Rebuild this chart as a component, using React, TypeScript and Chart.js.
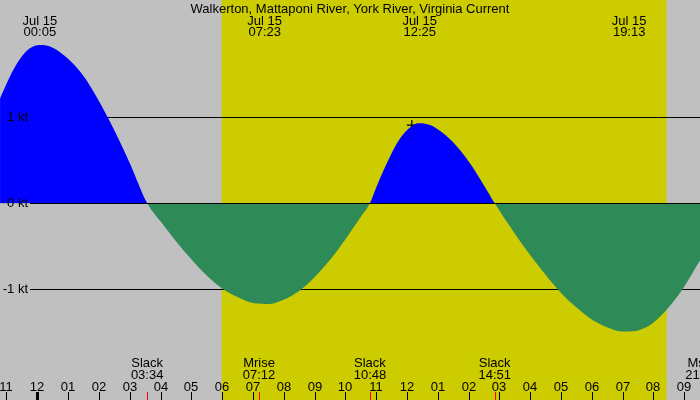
import { useEffect, useRef } from "react";
import { Chart, registerables } from "chart.js";

Chart.register(...registerables);

const stationTitle = "Walkerton, Mattaponi River, York River, Virginia Current";
const dateLabel = "Jul 15";

// Current speed (knots, + flood / - ebb) against hours after midnight, Jul 15
const tideHours = [
  -1.21, -1.0, -0.75, -0.5, -0.25, 0.08, 0.5, 1.0, 1.5, 2.0, 2.5, 3.0, 3.57,
  4.0, 4.5, 5.0, 5.5, 6.0, 6.5, 7.0, 7.38, 7.5, 8.0, 8.5, 9.0, 9.5, 10.0, 10.5, 10.8,
  11.0, 11.25, 11.5, 11.75, 12.0, 12.25, 12.42, 12.75, 13.0, 13.5, 14.0, 14.5, 14.85,
  15.5, 16.0, 16.5, 17.0, 17.5, 18.0, 18.5, 19.0, 19.22, 19.5, 20.0, 20.5, 21.0, 21.52,
];
const tideKnots = [
  1.22, 1.39, 1.57, 1.71, 1.8, 1.84, 1.81, 1.68, 1.48, 1.19, 0.85, 0.47, 0,
  -0.21, -0.44, -0.65, -0.84, -0.99, -1.09, -1.16, -1.17, -1.17, -1.12, -1.02, -0.86, -0.66, -0.42, -0.16, 0,
  0.18, 0.39, 0.58, 0.74, 0.85, 0.92, 0.93, 0.91, 0.86, 0.71, 0.49, 0.21, 0,
  -0.35, -0.6, -0.83, -1.04, -1.21, -1.35, -1.44, -1.49, -1.49, -1.48, -1.39, -1.21, -0.97, -0.66,
];

// Max / min current times shown along the top
const extremaTimes = ["00:05", "07:23", "12:25", "19:13"];

// Slack water and moon events shown along the bottom
const eventNames = ["Slack", "Mrise", "Slack", "Slack", "Mset"];
const eventTimes = ["03:34", "07:12", "10:48", "14:51", "21:34"];

const knotLevels = [1, 0, -1];
const sunriseTime = "05:59";
const sunsetTime = "20:26";

const markerHours = [12.16];
const markerKnots = [0.91];

const hourMin = -1.211;
const hourMax = 21.516;
const knotMin = -2.287;
const knotMax = 2.364;

const FONT = '13px "Liberation Sans", Arial, sans-serif';

const toHours = (t: string) => {
  const [h, m] = t.split(":").map(Number);
  return h + m / 60;
};

const tideDecor = {
  id: "tideDecor",
  beforeDatasetsDraw(chart: any) {
    const { ctx, width, height } = chart;
    const { x, y } = chart.scales;
    ctx.save();
    ctx.fillStyle = "#c0c0c0";
    ctx.fillRect(0, 0, width, height);
    const x1 = x.getPixelForValue(toHours(sunriseTime));
    const x2 = x.getPixelForValue(toHours(sunsetTime));
    ctx.fillStyle = "#cccc00";
    ctx.fillRect(x1, 0, x2 - x1, height);
    ctx.strokeStyle = "#000";
    ctx.lineWidth = 1;
    knotLevels
      .filter((k) => k !== 0)
      .forEach((k) => {
        const py = Math.round(y.getPixelForValue(k)) + 0.5;
        ctx.beginPath();
        ctx.moveTo(30, py);
        ctx.lineTo(width, py);
        ctx.stroke();
      });
    ctx.restore();
  },
  afterDraw(chart: any) {
    const { ctx, width, height } = chart;
    const { x, y } = chart.scales;
    ctx.save();
    ctx.strokeStyle = "#000";
    ctx.lineWidth = 1;
    const zy = Math.round(y.getPixelForValue(0)) + 0.5;
    ctx.beginPath();
    ctx.moveTo(30, zy);
    ctx.lineTo(width, zy);
    ctx.stroke();

    ctx.font = FONT;
    ctx.fillStyle = "#000";

    // level labels
    ctx.textAlign = "right";
    ctx.textBaseline = "middle";
    knotLevels.forEach((k) => {
      ctx.fillText(`${k} kt`, 28, y.getPixelForValue(k));
    });

    // title
    ctx.textAlign = "center";
    ctx.textBaseline = "alphabetic";
    ctx.fillText(stationTitle, width / 2, 12.5);

    // extrema labels
    extremaTimes.forEach((t) => {
      const px = x.getPixelForValue(toHours(t));
      ctx.fillText(dateLabel, px, 24.5);
      ctx.fillText(t, px, 36);
    });

    // bottom events
    eventTimes.forEach((t, i) => {
      const px = x.getPixelForValue(toHours(t));
      ctx.fillText(eventNames[i], px, 366.5);
      ctx.fillText(t, px, 378.5);
    });

    // hour ticks
    for (let h = Math.ceil(hourMin); h <= Math.floor(hourMax); h++) {
      const px = Math.round(x.getPixelForValue(h));
      const lbl = String(((h % 12) + 12) % 12 || 12).padStart(2, "0");
      ctx.fillText(lbl, px, 391);
      if (h === 0) {
        ctx.fillRect(px - 1, 392, 3, height - 392);
      } else {
        ctx.fillRect(px, 392, 1, height - 392);
      }
    }

    // event ticks
    ctx.fillStyle = "#ff0000";
    eventTimes.forEach((t) => {
      const px = Math.round(x.getPixelForValue(toHours(t)));
      ctx.fillRect(px, 392, 1, height - 392);
    });
    ctx.restore();
  },
};

export default function App() {
  const canvasRef = useRef<HTMLCanvasElement>(null);

  useEffect(() => {
    if (!canvasRef.current) return;
    const chart = new Chart(canvasRef.current, {
      type: "line",
      data: {
        datasets: [
          {
            data: tideHours.map((h, i) => ({ x: h, y: tideKnots[i] })),
            fill: { target: "origin", above: "#0000ff", below: "#2e8b57" },
            borderColor: "rgba(0,0,0,0)",
            borderWidth: 0,
            pointRadius: 0,
            cubicInterpolationMode: "monotone",
          },
          {
            type: "scatter",
            data: markerHours.map((h, i) => ({ x: h, y: markerKnots[i] })),
            pointStyle: "cross",
            pointRadius: 5,
            borderColor: "#000",
            backgroundColor: "#000",
            borderWidth: 1.2,
          },
        ],
      } as any,
      options: {
        responsive: false,
        animation: false,
        layout: { padding: 0, autoPadding: false },
        plugins: { legend: { display: false }, tooltip: { enabled: false } },
        scales: {
          x: { type: "linear", min: hourMin, max: hourMax, display: false },
          y: { min: knotMin, max: knotMax, display: false },
        },
      },
      plugins: [tideDecor],
    });
    return () => chart.destroy();
  }, []);

  return (
    <div style={{ position: "fixed", left: 0, top: 0, width: 700, height: 400 }}>
      <canvas ref={canvasRef} width={700} height={400} />
    </div>
  );
}
